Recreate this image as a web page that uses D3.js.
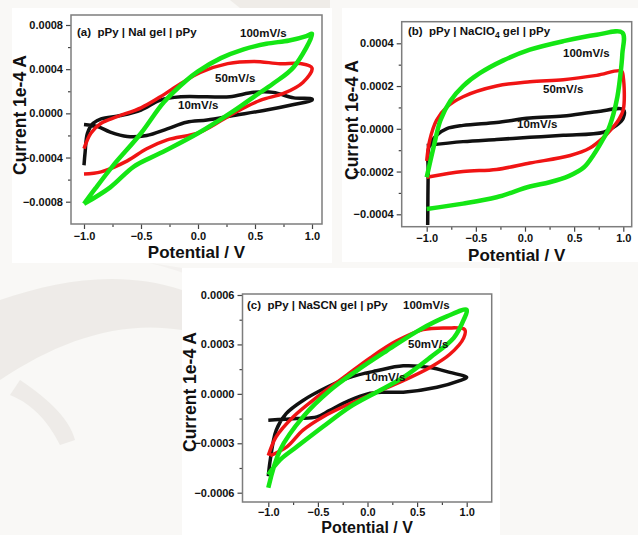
<!DOCTYPE html>
<html>
<head>
<meta charset="utf-8">
<script src="https://cdn.jsdelivr.net/npm/d3@7"></script>
<style>
body { margin: 0; background: #f9f8f6; }
svg { display: block; }
text { font-family: "Liberation Sans", Arial, sans-serif; font-weight: bold; fill: #111; }
</style>
</head>
<body>
<svg id="fig" width="638" height="535"></svg>
<script>
// scan rates, shared by all three panels
var rates = ["10mV/s", "50mV/s", "100mV/s"];
var rateColors = ["#111111", "#f01414", "#14e614"];
var rateWidths = [3.5, 3.5, 4.5];

var xTicks = [-1.0, -0.5, 0.0, 0.5, 1.0];
var xMinor = [-0.75, -0.25, 0.25, 0.75];

// (a) pPy | NaI gel | pPy   [potential V, current A]
var naI_10 = [[-1,-0.00047],[-0.99,-0.00035],[-0.97,-0.00018],[-0.92,-0.00009],[-0.85,-0.00005],[-0.68,-0.00002],[-0.5,0.00003],
	[-0.33,0.00012],[-0.15,0.00015],[0.08,0.00015],[0.28,0.00015],[0.49,0.00019],[0.66,0.00019],[0.84,0.00014],[1.0,0.00013],
	[1.0,0.00012],[0.84,0.00008],[0.6,0.00003],[0.31,-0.00002],[0.08,-0.00006],[-0.1,-0.00008],[-0.27,-0.00014],[-0.45,-0.0002],
	[-0.62,-0.00021],[-0.77,-0.00017],[-0.88,-0.00012],[-1,-0.0001]];
var naI_50 = [[-1,-0.00032],[-0.94,-0.00018],[-0.85,-0.00009],[-0.71,-0.00003],[-0.5,0.00005],[-0.33,0.00015],[-0.15,0.00027],
	[0.02,0.00037],[0.26,0.00045],[0.49,0.00047],[0.72,0.00045],[0.9,0.00045],[1.0,0.00041],
	[0.92,0.00028],[0.75,0.00018],[0.55,0.00012],[0.31,0.0],[0.02,-0.00017],[-0.27,-0.00024],[-0.45,-0.00032],[-0.62,-0.00043],
	[-0.85,-0.00053],[-1,-0.00055]];
var naI_100 = [[-1,-0.00082],[-0.9,-0.00068],[-0.75,-0.00048],[-0.5,-0.00018],[-0.3,0.0001],[-0.1,0.0003],[0,0.00038],
	[0.2,0.0005],[0.4,0.00058],[0.6,0.00063],[0.8,0.00066],[0.95,0.0007],[1.0,0.00072],
	[0.84,0.00042],[0.66,0.00027],[0.49,0.00015],[0.31,0.00002],[0,-0.00018],[-0.33,-0.00036],[-0.56,-0.00048],[-0.77,-0.00067],[-1,-0.00082]];
var yTicksA = [-0.0008, -0.0004, 0.0, 0.0004, 0.0008];
var yMinorA = [-0.0006, -0.0002, 0.0002, 0.0006];

// (b) pPy | NaClO4 gel | pPy
var naClO4_10 = [[-0.99,-0.00045],[-0.985,-0.0002],[-0.98,-0.00009],[-0.9,-0.00003],[-0.8,0.0],[-0.63,0.000016],[-0.29,0.00003],
	[0.05,0.00005],[0.39,0.00006],[0.73,0.00008],[1.0,0.00009],
	[1.0,0.00005],[0.93,0.000016],[0.8,-0.000016],[0.39,-0.00003],[0.05,-0.00004],[-0.29,-0.00005],[-0.63,-0.00006],[-1,-0.000078]];
var naClO4_50 = [[-1,-0.00015],[-0.97,-0.000055],[-0.9,0.00004],[-0.8,0.0001],[-0.63,0.00015],[-0.29,0.0002],[0.05,0.00022],
	[0.39,0.00023],[0.73,0.00025],[0.98,0.00027],
	[1.0,0.00024],[1.0,0.00009],[0.95,0.00004],[0.9,0.00001],[0.8,-0.00004],[0.66,-0.00009],[0.46,-0.000125],[0.05,-0.00016],
	[-0.29,-0.00019],[-0.63,-0.0002],[-1,-0.000227]];
var naClO4_100 = [[-1,-0.000227],[-0.93,-0.000086],[-0.86,0.00004],[-0.76,0.00013],[-0.63,0.0002],[-0.46,0.00026],[-0.22,0.00032],
	[0.05,0.00037],[0.39,0.00041],[0.73,0.00044],[0.99,0.00045],
	[0.99,0.00035],[0.97,0.00025],[0.94,0.00015],[0.9,0.00007],[0.85,0.0],[0.78,-0.00006],[0.7,-0.00012],[0.6,-0.00018],
	[0.45,-0.00022],[0.25,-0.00025],[0.05,-0.00027],[-0.29,-0.00032],[-0.63,-0.00035],[-1,-0.000375]];
var yTicksB = [-0.0004, -0.0002, 0.0, 0.0002, 0.0004];
var yMinorB = [-0.0003, -0.0001, 0.0001, 0.0003];

// (c) pPy | NaSCN gel | pPy
var naSCN_10 = [[-1,-0.0005],[-0.98,-0.0004],[-0.92,-0.00022],[-0.82,-0.00012],[-0.65,-0.00004],[-0.41,0.00004],[-0.18,0.0001],
	[0.09,0.00014],[0.36,0.00017],[0.63,0.00016],[0.83,0.00013],[1.0,0.0001],
	[0.93,0.00008],[0.7,0.00004],[0.36,0.00001],[0.16,0.00001],[0,0.0],[-0.18,-0.00004],[-0.38,-0.0001],[-0.51,-0.00014],
	[-0.71,-0.00015],[-1,-0.00016]];
var naSCN_50 = [[-1,-0.000375],[-0.92,-0.00026],[-0.75,-0.00014],[-0.51,-0.00002],[-0.24,0.0001],[0.03,0.00022],[0.29,0.00032],
	[0.56,0.00039],[0.8,0.0004],[0.98,0.00039],
	[0.97,0.00034],[0.83,0.00024],[0.63,0.00016],[0.36,0.00008],[0.09,0.00001],[-0.18,-0.00006],[-0.45,-0.00014],[-0.65,-0.00022],
	[-0.81,-0.00032],[-0.98,-0.000375]];
var naSCN_100 = [[-1,-0.00057],[-0.88,-0.00034],[-0.65,-0.00014],[-0.38,0.00002],[-0.11,0.00014],[0.19,0.00026],[0.53,0.00039],
	[0.8,0.00047],[1.0,0.00051],
	[0.97,0.00045],[0.87,0.00034],[0.63,0.00022],[0.36,0.0001],[0.09,0.00001],[-0.18,-0.00008],[-0.45,-0.0002],[-0.71,-0.00032],
	[-0.88,-0.0004],[-1,-0.00049]];
var yTicksC = [-0.0006, -0.0003, 0.0, 0.0003, 0.0006];
var yMinorC = [-0.00045, -0.00015, 0.00015, 0.00045];

var svg = d3.select("#fig");

//faint watermark shapes behind the panels
var wm = svg.append("g").attr("fill", "#e7e4df").attr("opacity", 0.6);
wm.append("path").attr("d", "M0,300 C60,280 120,270 182,290 L182,330 C120,320 60,340 0,380 Z");
wm.append("path").attr("d", "M20,380 C50,400 70,420 75,440 L60,445 C50,425 35,405 10,395 Z");
wm.append("path").attr("d", "M230,0 L330,0 L330,8 L240,8 Z");
wm.append("path").attr("d", "M150,263 C200,275 250,300 300,330 L300,268 L182,268 Z").attr("opacity", 0.5);

function drawPanel(p)
{
	var g = svg.append("g");

	//white card
	g.append("rect")
		.attr("x", p.card[0]).attr("y", p.card[1])
		.attr("width", p.card[2]).attr("height", p.card[3])
		.attr("fill", "#ffffff");

	var x = d3.scaleLinear().domain([-1, 1]).range(p.xr);
	var y = d3.scaleLinear().domain([p.yTicks[0], p.yTicks[p.yTicks.length - 1]]).range(p.yr);

	g.append("g").attr("transform", "translate(0," + p.frame[3] + ")")
		.call(d3.axisBottom(x).tickValues(xTicks).tickSize(5).tickPadding(p.xPad).tickFormat(d3.format(".1f")));
	g.append("g").attr("transform", "translate(0," + p.frame[3] + ")")
		.call(d3.axisBottom(x).tickValues(xMinor).tickSize(3).tickFormat(""));
	g.append("g").attr("transform", "translate(" + p.frame[0] + ",0)")
		.call(d3.axisLeft(y).tickValues(p.yTicks).tickSize(5).tickPadding(3).tickFormat(d3.format(".4f")));
	g.append("g").attr("transform", "translate(" + p.frame[0] + ",0)")
		.call(d3.axisLeft(y).tickValues(p.yMinor).tickSize(3).tickFormat(""));

	g.selectAll(".domain").remove();
	g.selectAll(".tick line").attr("stroke", "#444").attr("stroke-width", 1.2);
	g.selectAll(".tick text").style("font-size", "11px").style("font-family", "Liberation Sans, Arial").style("font-weight", "bold").attr("fill", "#111");

	var line = d3.line()
		.x(function(d) { return x(d[0]); })
		.y(function(d) { return y(d[1]); })
		.curve(d3.curveCatmullRom.alpha(0.5));

	p.series.forEach(function(s, i)
	{
		g.append("path")
			.datum(s)
			.attr("d", line)
			.attr("fill", "none")
			.attr("stroke", rateColors[i])
			.attr("stroke-width", rateWidths[i])
			.attr("stroke-linejoin", "round");
	});

	//frame
	g.append("rect")
		.attr("x", p.frame[0]).attr("y", p.frame[1])
		.attr("width", p.frame[2] - p.frame[0]).attr("height", p.frame[3] - p.frame[1])
		.attr("fill", "none").attr("stroke", "#7d7d7d").attr("stroke-width", 1.5);

	//panel label
	var t = g.append("text").attr("x", p.title[0]).attr("y", p.title[1]).style("font-size", "11.5px");
	p.titleParts.forEach(function(part)
	{
		if (part.sub)
			t.append("tspan").text(part.text).attr("dy", 3).style("font-size", "8.5px");
		else
			t.append("tspan").text(part.text).attr("dy", part.up ? -3 : 0).attr("xml:space", "preserve");
	});

	rates.forEach(function(r, i)
	{
		g.append("text").attr("x", p.rateAt[i][0]).attr("y", p.rateAt[i][1])
			.style("font-size", "11.5px").text(r);
	});

	g.append("text")
		.attr("x", (p.frame[0] + p.frame[2]) / 2 + p.xTitleDx).attr("y", p.xTitleY)
		.attr("text-anchor", "middle").style("font-size", p.xTitleSize).text("Potential / V");
	g.append("text")
		.attr("transform", "translate(" + p.yTitleX + "," + p.yTitleY + ") rotate(-90)")
		.attr("text-anchor", "middle").style("font-size", "17.5px").text("Current 1e-4 A");
}

drawPanel({
	card: [12, 8, 320, 255],
	frame: [71, 15, 322, 224],
	xr: [84, 312], yr: [201.7, 25],
	yTicks: yTicksA, yMinor: yMinorA,
	series: [naI_10, naI_50, naI_100],
	title: [77, 36], titleParts: [{text: "(a)  pPy | NaI gel | pPy"}],
	rateAt: [[178, 109], [215, 82], [240, 37]],
	xPad: 3, xTitleDx: 0, xTitleY: 258, xTitleSize: "17px", yTitleX: 26, yTitleY: 115
});

drawPanel({
	card: [342, 8, 296, 254],
	frame: [401.7, 21.7, 631.7, 226.7],
	xr: [426.7, 623.3], yr: [214.3, 43.3],
	yTicks: yTicksB, yMinor: yMinorB,
	series: [naClO4_10, naClO4_50, naClO4_100],
	title: [408, 35], titleParts: [{text: "(b)  pPy | NaClO"}, {text: "4", sub: true}, {text: " gel | pPy", up: true}],
	rateAt: [[517, 128], [543, 93], [563, 57]],
	xPad: 3, xTitleDx: 0, xTitleY: 261, xTitleSize: "17px", yTitleX: 358, yTitleY: 120
});

drawPanel({
	card: [182, 268, 318, 267],
	frame: [242.5, 294, 491.7, 502],
	xr: [268.3, 466.7], yr: [492.7, 295],
	yTicks: yTicksC, yMinor: yMinorC,
	series: [naSCN_10, naSCN_50, naSCN_100],
	title: [247, 309], titleParts: [{text: "(c)  pPy | NaSCN gel | pPy"}],
	rateAt: [[365, 381], [408, 348], [403, 309]],
	xPad: 1, xTitleDx: 0, xTitleY: 532.5, xTitleSize: "16px", yTitleX: 196, yTitleY: 392
});
</script>
</body>
</html>
